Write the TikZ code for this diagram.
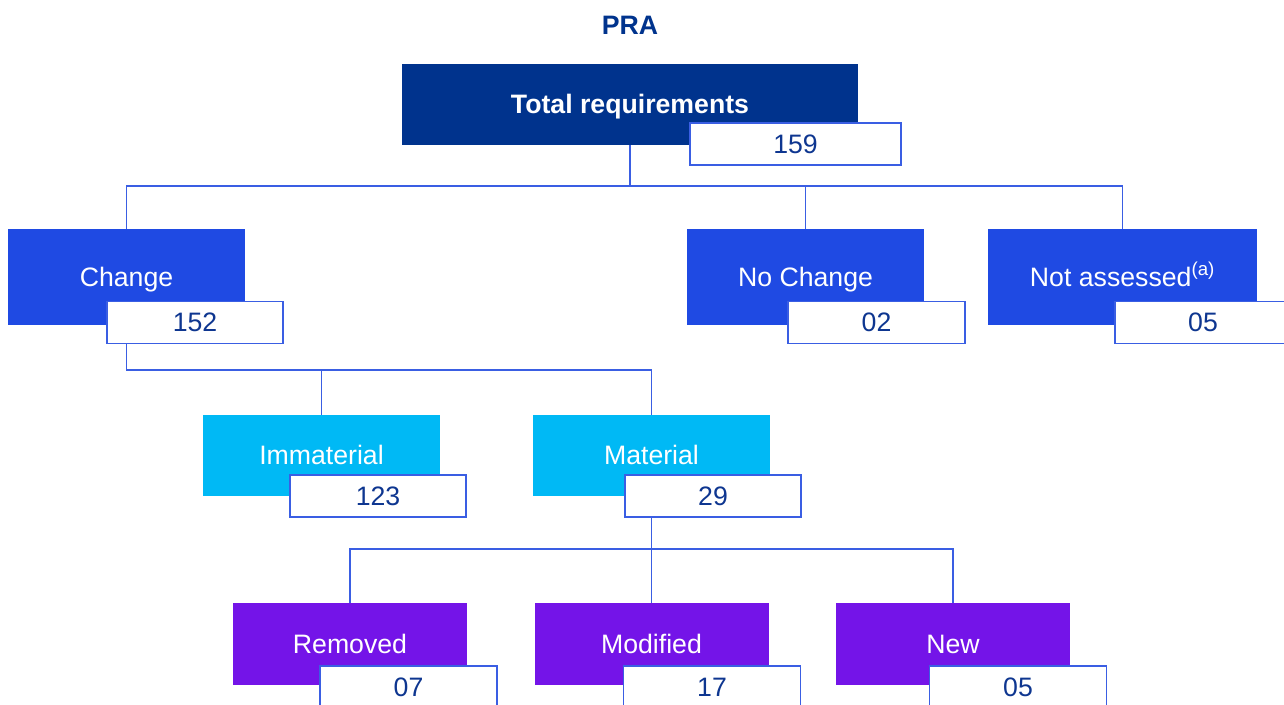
\documentclass[tikz,border=0pt]{standalone}
\usepackage{fontspec}
\setmainfont{Liberation Sans}
\definecolor{navy}{HTML}{00338D}
\definecolor{blueC}{HTML}{1F4AE3}
\definecolor{cyanC}{HTML}{00B9F5}
\definecolor{purpleC}{HTML}{7414E8}
\definecolor{numtext}{HTML}{0E3690}
\definecolor{lineC}{HTML}{3A5EE3}
\begin{document}
\begin{tikzpicture}[x=0.75pt,y=-0.75pt,
  every node/.style={font=\fontsize{20}{24}\selectfont},
  cat/.style={rectangle, inner sep=0pt, text=white, text height=14pt, text depth=0.5pt, minimum width={237*0.75pt}, minimum height={96*0.75pt}},
  num/.style={rectangle, inner sep=0pt, fill=white, draw=lineC, line width=0.9pt, text=numtext, text height=14pt, text depth=0.5pt, minimum width={176*0.75pt}, minimum height={42*0.75pt}},
  conn/.style={draw=lineC, line width=0.9pt}]
\useasboundingbox (0,0) rectangle (1284,704);
% title
\node[text=navy, font=\fontsize{20}{24}\selectfont\bfseries, text height=14pt, text depth=0.5pt, inner sep=0pt] (title) at (630,25) {PRA};
% top
\node[cat, fill=navy, minimum width={456*0.75pt}, minimum height={81*0.75pt}, font=\fontsize{20}{24}\selectfont\bfseries] (total) at (630,104.5) {Total requirements};
\node[num, minimum width={211*0.75pt}] (n159) at (795.5,144) {159};
% level 1
\node[cat, fill=blueC] (change) at (126.5,277) {Change};
\node[num] (n152) at (195,322.5) {152};
\node[cat, fill=blueC] (nochange) at (805.5,277) {No Change};
\node[num, minimum width={177*0.75pt}] (n02) at (876.5,322.5) {02};
\node[cat, fill=blueC, minimum width={269*0.75pt}] (notass) at (1122.5,277) {Not assessed\textsuperscript{(a)}};
\node[num] (n05a) at (1203,322.5) {05};
% level 2
\node[cat, fill=cyanC, minimum height={81*0.75pt}] (immat) at (321.5,455.5) {Immaterial};
\node[num] (n123) at (378,496) {123};
\node[cat, fill=cyanC, minimum height={81*0.75pt}] (mat) at (651.5,455.5) {Material};
\node[num] (n29) at (713,496) {29};
% level 3
\node[cat, fill=purpleC, minimum width={234*0.75pt}, minimum height={82*0.75pt}] (removed) at (350,644) {Removed};
\node[num, minimum width={177*0.75pt}] (n07) at (408.5,687) {07};
\node[cat, fill=purpleC, minimum width={234*0.75pt}, minimum height={82*0.75pt}] (modified) at (651.5,644) {Modified};
\node[num, minimum width={177*0.75pt}] (n17) at (712,687) {17};
\node[cat, fill=purpleC, minimum width={234*0.75pt}, minimum height={82*0.75pt}] (new) at (953,644) {New};
\node[num, minimum width={177*0.75pt}] (n05b) at (1018,687) {05};
% connectors
\coordinate (b1) at (630,186);
\coordinate (b2) at (126.5,370);
\coordinate (b3) at (651.5,549);
\path[conn] (total.south) -- (b1);
\path[conn] (change.north) |- (b1) -| (notass.north);
\path[conn] (nochange.north) -- (nochange.north |- b1);
\path[conn] (change.south |- n152.south) -- (b2) -| (mat.north);
\path[conn] (immat.north) -- (immat.north |- b2);
\path[conn] (mat.south |- n29.south) -- (b3);
\path[conn] (removed.north) |- (b3) -| (new.north);
\path[conn] (b3) -- (modified.north);
\end{tikzpicture}
\end{document}
